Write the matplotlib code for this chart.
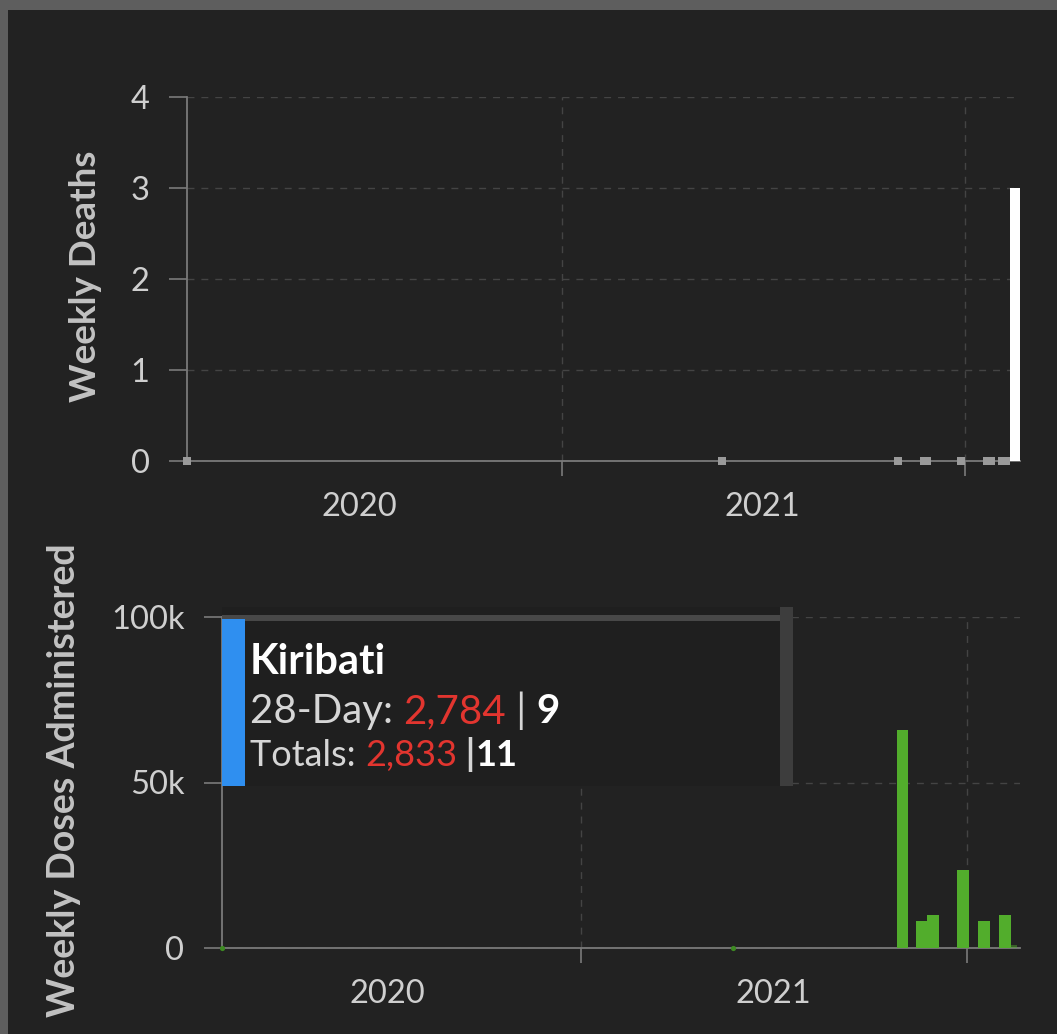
import matplotlib
matplotlib.use('Agg')
import matplotlib.pyplot as plt
import matplotlib.dates as mdates
import matplotlib.ticker as mticker
from matplotlib.patches import Rectangle
from matplotlib.text import Annotation
import pandas as pd

plt.rcParams['font.family'] = ['Lato', 'DejaVu Sans']

# ---- data ----
death_dates = ['2022-02-16']
death_values = [3]
# weeks with zero deaths, drawn as small grey squares
death_zero_dates = ['2020-01-28', '2021-05-26', '2021-11-02', '2021-11-25', '2021-11-28',
                    '2021-12-29', '2022-01-21', '2022-01-25', '2022-02-04', '2022-02-07']

dose_dates = ['2021-11-01', '2021-11-19', '2021-11-30', '2021-12-28', '2022-01-17', '2022-02-06']
dose_values = [65800, 8200, 10000, 23600, 8200, 10000]
dose_partial_date = ['2022-02-14']   # latest, incomplete week
dose_partial_value = [1000]
dose_zero_dates = ['2020-01-28', '2021-05-25']

x_start, x_end = '2020-01-28', '2022-02-20'
year_ticks = ['2021-01-01', '2022-01-01']
year_label_pos = ['2020-07-02', '2021-07-02']
year_labels = ['2020', '2021']

tooltip_name = 'Kiribati'
tooltip_28day = ('2,784', '9')
tooltip_totals = ('2,833', '11')

# ---- style ----
BG = '#222222'
BORDER = '#5e5e5e'
GRID = '#444444'
AXIS = '#7a7a7a'
TICKLBL = '#cfcfcf'
YLBL = '#c2c2c2'
GREEN = '#52ad2c'
RED = '#e2352f'
BLUE = '#2f8ff0'

W, H = 1057, 1034
fig = plt.figure(figsize=(W / 100, H / 100), dpi=100, facecolor=BORDER)
fig.patches.append(Rectangle((8 / W, 0), 1, 1 - 10 / H, transform=fig.transFigure,
                             facecolor=BG, edgecolor='none', zorder=-10))


def px_box(l, t, r, b):
    return [l / W, 1 - b / H, (r - l) / W, (b - t) / H]


def d(s):
    return mdates.date2num(pd.to_datetime(s))


def style_axes(ax, ymax, yticks, fmt):
    ax.set_facecolor('none')
    ax.set_xlim(d(x_start), d(x_end))
    ax.set_ylim(0, ymax)
    for s in ['top', 'right']:
        ax.spines[s].set_visible(False)
    for s in ['left', 'bottom']:
        ax.spines[s].set_color(AXIS)
        ax.spines[s].set_linewidth(1.3)
    ax.set_yticks(yticks)
    ax.yaxis.set_major_formatter(mticker.FuncFormatter(fmt))
    ax.tick_params(axis='y', colors=AXIS, length=13, width=1.2, pad=14,
                   labelcolor=TICKLBL, labelsize=23.5)
    ax.set_xticks([d(t) for t in year_ticks])
    ax.set_xticklabels([])
    ax.set_xticks([d(t) for t in year_label_pos], minor=True)
    ax.set_xticklabels(year_labels, minor=True)
    ax.tick_params(axis='x', which='major', colors=AXIS, length=11, width=1.2)
    ax.tick_params(axis='x', which='minor', length=0, pad=22,
                   labelcolor=TICKLBL, labelsize=23.5)
    ax.grid(True, which='major', color=GRID, linestyle=(0, (5, 5)), linewidth=1)
    ax.set_axisbelow(True)


# ---- top: weekly deaths ----
ax1 = fig.add_axes(px_box(187, 97, 1020, 461))
style_axes(ax1, 4, [0, 1, 2, 3, 4], lambda v, p: f'{int(v)}')
ax1.bar([d(x) for x in death_dates], death_values, width=10, color='white', zorder=3)
ax1.scatter([d(x) for x in death_zero_dates], [0] * len(death_zero_dates), marker='s',
            s=28, color='#9a9a9a', linewidths=0, zorder=3, clip_on=False)
fig.text(85 / W, 1 - 276 / H, 'Weekly Deaths', rotation=90, ha='center', va='center',
         color=YLBL, fontsize=26.5, fontweight='bold')


# ---- bottom: weekly doses ----
def kfmt(v, p):
    return '0' if v == 0 else f'{int(v / 1000)}k'


ax2 = fig.add_axes(px_box(222, 617, 1020, 948))
style_axes(ax2, 100000, [0, 50000, 100000], kfmt)
ax2.bar([d(x) for x in dose_dates], dose_values, width=11, color=GREEN, zorder=3)
ax2.bar([d(x) for x in dose_partial_date], dose_partial_value, width=6, color=GREEN,
        alpha=0.45, zorder=3)
ax2.scatter([d(x) for x in dose_zero_dates], [0] * len(dose_zero_dates), marker='o',
            s=14, color='#3d8a22', linewidths=0, zorder=3, clip_on=False)
fig.text(64 / W, 1 - 780 / H, 'Weekly Doses Administered', rotation=90, ha='center',
         va='center', color=YLBL, fontsize=27, fontweight='bold')


# ---- tooltip overlay ----
def fig_rect(l, t, r, b, color, z):
    fig.patches.append(Rectangle((l / W, 1 - b / H), (r - l) / W, (b - t) / H,
                                 transform=fig.transFigure, facecolor=color,
                                 edgecolor='none', zorder=z))


fig_rect(222, 607, 792, 786, '#1f1f1f', 5)
fig_rect(222, 615, 781, 621, '#484848', 6)
fig_rect(780, 607, 793, 786, '#3d3d3d', 6)
fig_rect(222, 619, 245, 786, BLUE, 7)


def text_line(x, y, parts):
    prev = None
    for s, col, size, weight in parts:
        if prev is None:
            prev = fig.text(x / W, 1 - y / H, s, color=col, fontsize=size,
                            fontweight=weight, ha='left', va='baseline', zorder=8)
        else:
            a = Annotation(s, xy=(1, 0), xycoords=prev, xytext=(0, 0),
                           textcoords='offset points', color=col, fontsize=size,
                           fontweight=weight, ha='left', va='bottom',
                           annotation_clip=False, zorder=8)
            fig.add_artist(a)
            prev = a


fig.text(250 / W, 1 - 674 / H, tooltip_name, color='white', fontsize=30,
         fontweight='bold', ha='left', va='baseline', zorder=8)
text_line(250, 723, [('28-Day: ', '#d6d6d6', 29, 'normal'),
                     (tooltip_28day[0], RED, 29, 'normal'),
                     (' | ', '#d6d6d6', 29, 'normal'),
                     (tooltip_28day[1], 'white', 29, 'bold')])
text_line(250, 766, [('Totals: ', '#d6d6d6', 26, 'normal'),
                     (tooltip_totals[0], RED, 26, 'normal'),
                     (' |', '#d6d6d6', 26, 'bold'),
                     (tooltip_totals[1], 'white', 26, 'bold')])

fig.savefig('out.png', dpi=100, facecolor=fig.get_facecolor())
